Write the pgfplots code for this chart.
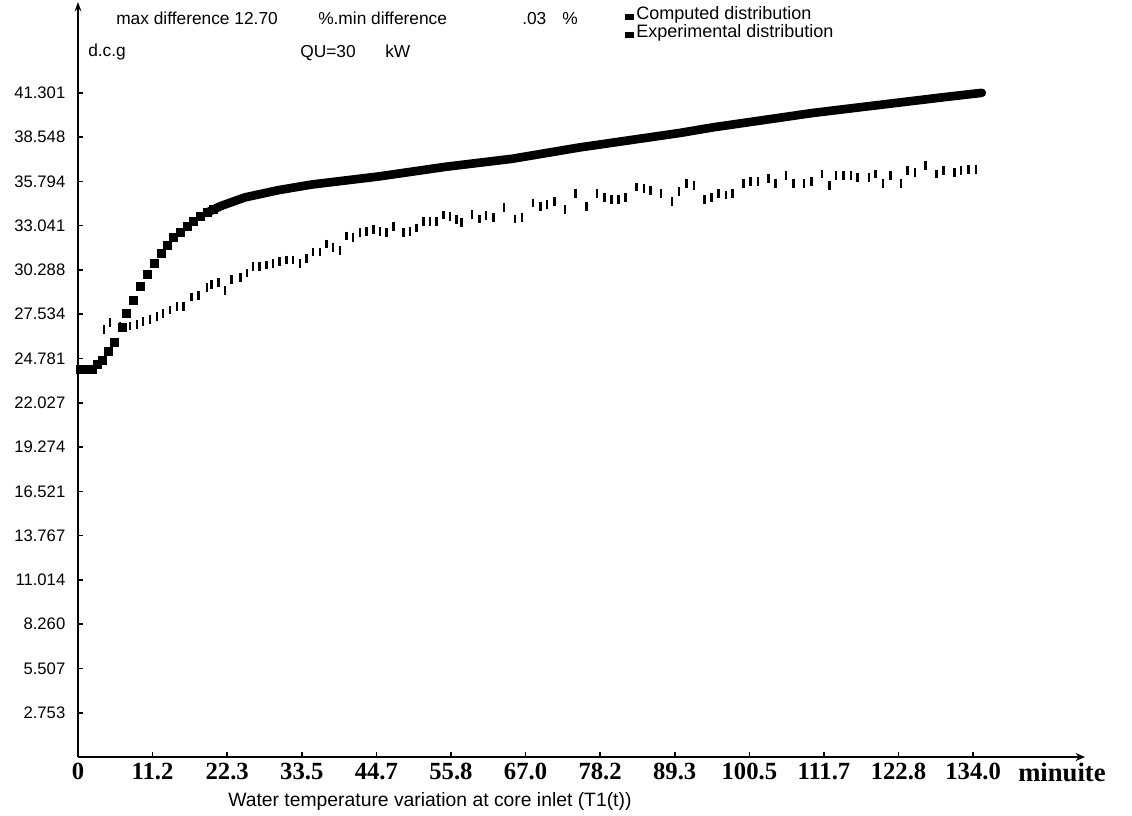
\documentclass[border=0pt]{standalone}
\usepackage{pgfplots}
\pgfplotsset{compat=1.18}
\usetikzlibrary{arrows.meta}
\usepackage{fontspec}
\setmainfont{Liberation Sans}
\newfontfamily\lserif{Liberation Serif}

\pgfplotstableread{
x y
0.3 24.1
1.2 24.1
2.2 24.1
2.9 24.4
3.6 24.7
4.5 25.2
5.5 25.8
6.6 26.7
7.3 27.6
8.2 28.4
9.3 29.3
10.3 30.0
11.4 30.7
12.4 31.3
13.3 31.8
14.2 32.3
15.3 32.6
16.3 33.0
17.2 33.3
18.3 33.6
19.3 33.85
20.3 34.05
}\computedA

\pgfplotstableread{
x y
19.3 33.85
20.3 34.05
21.3 34.25
22.3 34.4
23.3 34.55
25 34.8
30 35.25
35 35.6
40 35.85
45 36.1
50 36.4
55 36.7
60 36.95
65 37.2
70 37.55
75 37.9
80 38.2
85 38.5
90 38.8
95 39.15
100 39.45
105 39.75
110 40.05
115 40.3
120 40.55
125 40.8
130 41.05
135.3 41.3
}\computedB

\pgfplotstableread{
x y
3.9 26.6
4.8 27.0
6.3 26.8
7.8 26.8
8.8 26.9
9.7 27.1
10.8 27.2
11.8 27.4
12.7 27.6
13.8 27.8
14.8 28.0
15.8 28.0
17.0 28.6
18.0 28.7
19.3 29.2
20.0 29.4
21.0 29.5
22.0 29.0
23.0 29.7
24.3 29.8
25.3 30.1
26.2 30.5
27.2 30.5
28.2 30.6
29.2 30.7
30.2 30.8
31.2 30.9
32.2 30.9
33.2 30.7
34.2 31.0
35.2 31.4
36.2 31.4
37.2 31.9
38.2 31.7
39.2 31.5
40.2 32.4
41.2 32.3
42.2 32.6
43.2 32.7
44.2 32.8
45.2 32.7
46.2 32.6
47.2 33.0
48.7 32.6
49.7 32.7
50.7 32.9
51.7 33.3
52.7 33.3
53.7 33.3
54.7 33.7
55.7 33.6
56.7 33.4
57.4 33.25
59.0 33.75
60.1 33.45
61.1 33.65
62.2 33.55
63.8 34.15
65.4 33.45
66.5 33.55
68.1 34.45
69.2 34.25
70.2 34.35
71.3 34.55
72.9 34.05
74.5 35.05
76.1 34.25
77.7 35.05
78.8 34.8
79.9 34.65
80.9 34.65
82.0 34.8
83.6 35.45
84.7 35.35
85.7 35.25
87.3 35.05
88.9 34.55
90.0 35.15
91.1 35.65
92.2 35.55
93.8 34.65
94.8 34.8
95.9 35.05
97.0 34.95
98.0 35.05
99.6 35.65
100.7 35.8
101.8 35.8
103.4 35.95
104.4 35.65
106.0 36.15
107.1 35.65
108.7 35.65
109.8 35.8
111.4 36.25
112.5 35.55
113.5 36.15
114.6 36.15
115.7 36.15
116.7 36.05
118.4 36.05
119.4 36.25
120.5 35.65
121.6 36.15
123.2 35.65
124.2 36.45
125.3 36.35
126.9 36.8
128.5 36.25
129.6 36.45
131.2 36.35
132.2 36.45
133.3 36.55
134.4 36.55
}\experimental

\begin{document}
\begin{tikzpicture}
\begin{scope}[x=0.75pt,y=-0.75pt]
\path[use as bounding box] (0,0) rectangle (1132,816);
\end{scope}
\begin{axis}[
  at={(58.5pt,-567.75pt)}, anchor=south west,
  scale only axis, width=755.25pt, height=566.25pt,
  xmin=0, xmax=150.75, ymin=0, ymax=46.95,
  axis lines=left,
  axis line style={line width=1.3pt, black},
  x axis line style={-{Stealth[length=7pt,width=6pt]}},
  y axis line style={-{Stealth[length=7pt,width=5pt]}},
  tick align=inside, major tick length=4pt,
  tick style={line width=1.2pt, black},
  xtick={0,11.1667,22.3333,33.5,44.6667,55.8333,67,78.1667,89.3333,100.5,111.6667,122.8333,134},
  xticklabels={0,11.2,22.3,33.5,44.7,55.8,67.0,78.2,89.3,100.5,111.7,122.8,134.0},
  ytick={2.7534,5.5068,8.2602,11.0136,13.767,16.5204,19.2738,22.0272,24.7806,27.534,30.2874,33.0408,35.7942,38.5476,41.301},
  yticklabels={2.753,5.507,8.260,11.014,13.767,16.521,19.274,22.027,24.781,27.534,30.288,33.041,35.794,38.548,41.301},
  yticklabel style={font=\fontsize{12.5}{14}\selectfont, xshift=-6pt},
  xticklabel style={font=\lserif\bfseries\fontsize{18.5}{20}\selectfont, yshift=-1pt},
  clip=false,
  legend cell align=left,
  legend style={at={(0.543,0.998)}, anchor=north west, draw=none, fill=none,
    font=\fontsize{13.5}{15}\selectfont, inner sep=0pt, row sep=-2pt},
  legend image code/.code={\fill[black] (0pt,-4pt) rectangle (6pt,-0.5pt);},
]
\addplot[only marks, mark=square*, mark size=3pt, black] table {\computedA};
\addlegendentry{Computed distribution}
\addplot[black, line width=6.5pt, line join=round, line cap=round, forget plot] table {\computedB};
\addplot[only marks, mark=|, mark size=3.3pt, black, mark options={line width=1.9pt}] table {\experimental};
\addlegendentry{Experimental distribution}
\end{axis}
\begin{scope}[x=0.75pt,y=-0.75pt]
\begin{scope}[every node/.style={inner sep=0pt, font=\fontsize{13}{15}\selectfont}]
\node[anchor=base west] at (116,25) {max difference 12.70};
\node[anchor=base west] at (318,25) {\%.min difference};
\node[anchor=base west] at (522,25) {.03};
\node[anchor=base west] at (562,25) {\%};
\node[anchor=base west] at (88,57) {d.c.g};
\node[anchor=base west] at (300,58) {QU=30};
\node[anchor=base west] at (385,58) {kW};
\node[anchor=base west, font=\fontsize{14.5}{16}\selectfont] at (228,806) {Water temperature variation at core inlet (T1(t))};
\node[anchor=base west, font=\lserif\bfseries\fontsize{20}{22}\selectfont] at (1018,781) {minuite};
\end{scope}
\end{scope}
\end{tikzpicture}
\end{document}
